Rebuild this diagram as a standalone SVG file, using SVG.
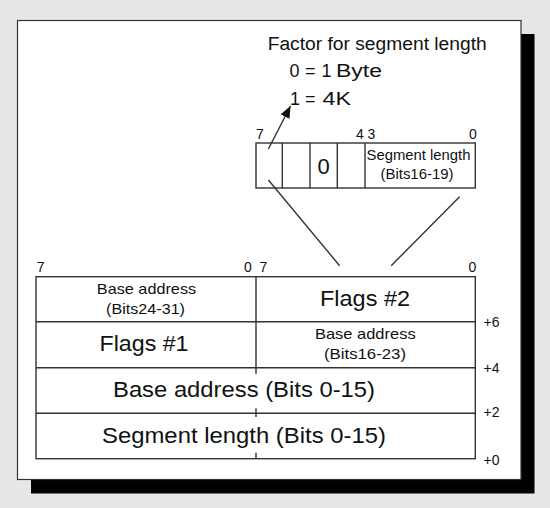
<svg xmlns="http://www.w3.org/2000/svg" width="550" height="508" viewBox="0 0 550 508">
<defs>
<style>
text{font-family:"Liberation Sans",Arial,sans-serif;fill:#111}
.ln{stroke:#333;stroke-width:1.4;fill:none}
.big{font-size:22px;text-anchor:middle}
.mid{font-size:15px;text-anchor:middle}
.num{font-size:14px}
.ttl{font-size:18px}
</style>
<marker id="ah" viewBox="0 0 12 10" refX="12" refY="5" markerWidth="12" markerHeight="10" markerUnits="userSpaceOnUse" orient="auto">
<path d="M0,0 L12,5 L0,10 Z" fill="#111"/>
</marker>
</defs>
<rect width="550" height="508" fill="#e6e7e9"/>
<rect x="31" y="34" width="503.5" height="459.5" fill="#000"/>
<rect x="17.5" y="20.5" width="503.5" height="459" fill="#fff" stroke="#333" stroke-width="1.2"/>

<g id="legend">
<text class="ttl" x="267.7" y="50" textLength="219" lengthAdjust="spacingAndGlyphs">Factor for segment length</text>
<text class="ttl" x="289.5" y="77">0</text>
<text class="ttl" x="305" y="77">=</text>
<text class="ttl" x="321.5" y="77">1</text>
<text class="ttl" x="336" y="77" textLength="46" lengthAdjust="spacingAndGlyphs">Byte</text>
<text class="ttl" x="290" y="105">1</text>
<text class="ttl" x="305" y="105">=</text>
<text class="ttl" x="322.5" y="105" textLength="28.5" lengthAdjust="spacingAndGlyphs">4K</text>
</g>

<g id="flags-byte">
<rect class="ln" x="256" y="143" width="219.3" height="45"/>
<line class="ln" x1="282.3" y1="143" x2="282.3" y2="188"/>
<line class="ln" x1="310" y1="143" x2="310" y2="188"/>
<line class="ln" x1="337.3" y1="143" x2="337.3" y2="188"/>
<line class="ln" x1="365" y1="143" x2="365" y2="188"/>
<text class="big" x="323.6" y="173.5">0</text>
<text class="mid" x="418.5" y="160" textLength="104" lengthAdjust="spacingAndGlyphs">Segment length</text>
<text class="mid" x="417" y="178.5" textLength="73" lengthAdjust="spacingAndGlyphs">(Bits16-19)</text>
<text class="num" x="256" y="138.5">7</text>
<text class="num" x="356" y="138.5">4</text>
<text class="num" x="367.4" y="138.5">3</text>
<text class="num" x="469" y="138.5">0</text>
</g>

<g id="descriptor">
<rect class="ln" x="36" y="276.7" width="439.3" height="182"/>
<line class="ln" x1="36" y1="321.7" x2="475.3" y2="321.7"/>
<line class="ln" x1="36" y1="367.7" x2="475.3" y2="367.7"/>
<line class="ln" x1="36" y1="413.3" x2="475.3" y2="413.3"/>
<line class="ln" x1="256" y1="276.7" x2="256" y2="374"/>
<line class="ln" x1="256" y1="408.3" x2="256" y2="417"/>
<line class="ln" x1="256" y1="452.7" x2="256" y2="458.7"/>
<text class="mid" x="146.5" y="293.5" textLength="99.3" lengthAdjust="spacingAndGlyphs">Base address</text>
<text class="mid" x="145.5" y="313.5" textLength="79" lengthAdjust="spacingAndGlyphs">(Bits24-31)</text>
<text class="big" x="365" y="305.5" textLength="90" lengthAdjust="spacingAndGlyphs">Flags #2</text>
<text class="big" x="144" y="351" textLength="89" lengthAdjust="spacingAndGlyphs">Flags #1</text>
<text class="mid" x="365.3" y="338.5" textLength="100.7" lengthAdjust="spacingAndGlyphs">Base address</text>
<text class="mid" x="365" y="359" textLength="82" lengthAdjust="spacingAndGlyphs">(Bits16-23)</text>
<text class="big" x="244" y="396.7" textLength="262" lengthAdjust="spacingAndGlyphs">Base address (Bits 0-15)</text>
<text class="big" x="244" y="442.7" textLength="284" lengthAdjust="spacingAndGlyphs">Segment length (Bits 0-15)</text>
<text class="num" x="36.8" y="271.7">7</text>
<text class="num" x="244" y="271.7">0</text>
<text class="num" x="259.6" y="271.7">7</text>
<text class="num" x="468.4" y="271.7">0</text>
<text class="num" x="483.5" y="327">+6</text>
<text class="num" x="483.5" y="373">+4</text>
<text class="num" x="483.5" y="417">+2</text>
<text class="num" x="483.5" y="465">+0</text>
</g>

<g id="connectors">
<line class="ln" x1="268.4" y1="149" x2="290.5" y2="106" marker-end="url(#ah)"/>
<line class="ln" x1="268.4" y1="180" x2="339.6" y2="265.7"/>
<line class="ln" x1="459.6" y1="196.7" x2="391.2" y2="265.7"/>
</g>
</svg>
